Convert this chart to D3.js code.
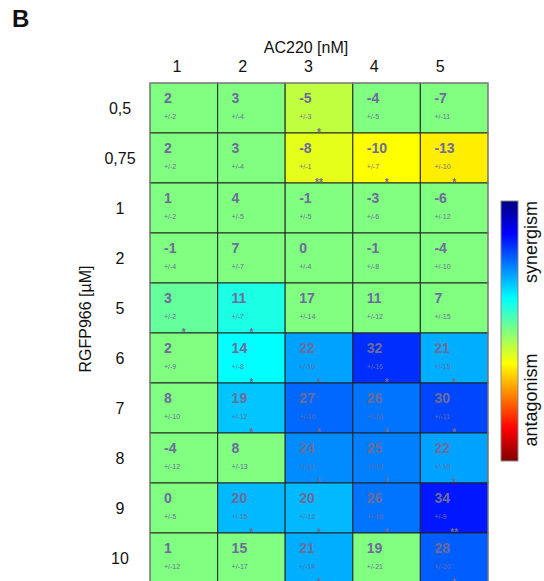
<!DOCTYPE html>
<html>
<head>
<meta charset="utf-8">
<script src="https://cdn.jsdelivr.net/npm/d3@7"></script>
<style>
  body{margin:0;background:#fff;}
  svg{display:block;font-family:"Liberation Sans",Arial,sans-serif;}
</style>
</head>
<body>
<svg></svg>
<script>
// rows = RGFP966 [uM], cols = AC220 [nM]
var rows=["0,5","0,75","1","2","5","6","7","8","9","10"];
var cols=["1","2","3","4","5"];
var values=[
  [2,3,-5,-4,-7],
  [2,3,-8,-10,-13],
  [1,4,-1,-3,-6],
  [-1,7,0,-1,-4],
  [3,11,17,11,7],
  [2,14,22,32,21],
  [8,19,27,26,30],
  [-4,8,24,25,22],
  [0,20,20,26,34],
  [1,15,21,19,28]
];
var errors=[
  [2,4,3,5,11],
  [2,4,1,7,10],
  [2,5,5,6,12],
  [4,7,4,8,10],
  [2,7,14,12,15],
  [9,8,10,16,15],
  [10,12,10,18,11],
  [12,13,11,13,10],
  [5,15,12,16,9],
  [12,17,14,21,20]
];
var stars=[
  ["","","*","",""],
  ["","","**","*","*"],
  ["","","","",""],
  ["","","","",""],
  ["*","*","","",""],
  ["","*","*","*","*"],
  ["","*","*","*","*"],
  ["","","*","*","*"],
  ["","*","*","*","**"],
  ["","","*","","*"]
];

var jet=["#000080","#0000ff","#00ffff","#80ff80","#ffff00","#ff0000","#800000"];

var svg=d3.select("svg").attr("width",544).attr("height",581);

var grid={left:150,top:83,width:338,height:500};

var xScale=d3.scaleBand().domain(cols).range([grid.left,grid.left+grid.width]);
var yScale=d3.scaleBand().domain(rows).range([grid.top,grid.top+grid.height]);
// column labels sit a bit left of the cells in the original
var xLab=d3.scaleBand().domain(cols).range([144,473]);

// jet-like colour map, blue = synergism, red/yellow = antagonism
var color=d3.scaleLinear()
  .domain([46,36,14,0,-10,-56,-66])
  .range(jet)
  .interpolate(d3.interpolateRgb)
  .clamp(true);

var cells=[];
rows.forEach(function(r,i){
  cols.forEach(function(c,j){
    cells.push({row:r,col:c,v:values[i][j],e:errors[i][j],s:stars[i][j]});
  });
});

var plot=svg.append("g").classed("plot",true);
var txtCol="#6c6c9a";

var g=plot.selectAll("g.cell")
  .data(cells)
  .enter()
  .append("g")
  .classed("cell",true)
  .attr("transform",function(d){return "translate("+xScale(d.col)+","+yScale(d.row)+")";});

g.append("rect")
  .attr("width",xScale.bandwidth())
  .attr("height",yScale.bandwidth())
  .attr("fill",function(d){return d.s?color(d.v):color(0);})
  .attr("stroke","#222")
  .attr("stroke-opacity",0.8)
  .attr("stroke-width",1.2);

g.append("text")
  .attr("x",14)
  .attr("y",20)
  .attr("font-size",14)
  .attr("font-weight","bold")
  .attr("fill",txtCol)
  .text(function(d){return d.v;});

g.append("text")
  .attr("x",14)
  .attr("y",36)
  .attr("font-size",7)
  .attr("fill",txtCol)
  .text(function(d){return "+/-"+d.e;});

// significance stars on top of all the cell borders
plot.append("g").selectAll("text")
  .data(cells.filter(function(d){return d.s;}))
  .enter()
  .append("text")
  .attr("x",function(d){return xScale(d.col)+xScale.bandwidth()/2;})
  .attr("y",function(d){return yScale(d.row)+yScale.bandwidth()+3;})
  .attr("text-anchor","middle")
  .attr("font-size",10)
  .attr("font-weight","bold")
  .attr("fill","#6c6c9a")
  .text(function(d){return d.s;});

// outer frame
plot.append("rect")
  .attr("x",grid.left).attr("y",grid.top)
  .attr("width",grid.width).attr("height",grid.height)
  .attr("fill","none").attr("stroke","#999").attr("stroke-width",1);

// column labels
svg.append("g").selectAll("text")
  .data(cols)
  .enter()
  .append("text")
  .attr("x",function(d){return xLab(d)+xLab.bandwidth()/2;})
  .attr("y",72)
  .attr("text-anchor","middle")
  .attr("font-size",16)
  .attr("fill","#111")
  .text(function(d){return d;});

// row labels
svg.append("g").selectAll("text")
  .data(rows)
  .enter()
  .append("text")
  .attr("x",120)
  .attr("y",function(d){return yScale(d)+yScale.bandwidth()/2+6;})
  .attr("text-anchor","middle")
  .attr("font-size",16)
  .attr("fill","#111")
  .text(function(d){return d;});

svg.append("text")
  .attr("x",306).attr("y",53)
  .attr("text-anchor","middle")
  .attr("font-size",16)
  .attr("fill","#111")
  .text("AC220 [nM]");

svg.append("text")
  .attr("transform","translate(91,319) rotate(-90)")
  .attr("text-anchor","middle")
  .attr("font-size",16)
  .attr("fill","#111")
  .text("RGFP966 [µM]");

svg.append("text")
  .attr("x",12).attr("y",27)
  .attr("font-size",24)
  .attr("font-weight","bold")
  .attr("fill","#111")
  .text("B");

// colour bar, plain jet top (blue) to bottom (dark red)
var defs=svg.append("defs");
var grad=defs.append("linearGradient")
  .attr("id","jet")
  .attr("x1",0).attr("y1",0).attr("x2",0).attr("y2",1);
var jetPos=[0,12.5,37.5,50,62.5,87.5,100];
grad.selectAll("stop")
  .data(jet)
  .enter()
  .append("stop")
  .attr("offset",function(d,i){return jetPos[i]+"%";})
  .attr("stop-color",function(d){return d;});

svg.append("rect")
  .attr("x",501).attr("y",201)
  .attr("width",17).attr("height",260)
  .attr("fill","url(#jet)")
  .attr("stroke","#888")
  .attr("stroke-width",1);

svg.append("text")
  .attr("transform","translate(537,242) rotate(-90)")
  .attr("text-anchor","middle")
  .attr("font-size",18)
  .attr("fill","#111")
  .text("synergism");

svg.append("text")
  .attr("transform","translate(537,400) rotate(-90)")
  .attr("text-anchor","middle")
  .attr("font-size",18)
  .attr("fill","#111")
  .text("antagonism");
</script>
</body>
</html>
